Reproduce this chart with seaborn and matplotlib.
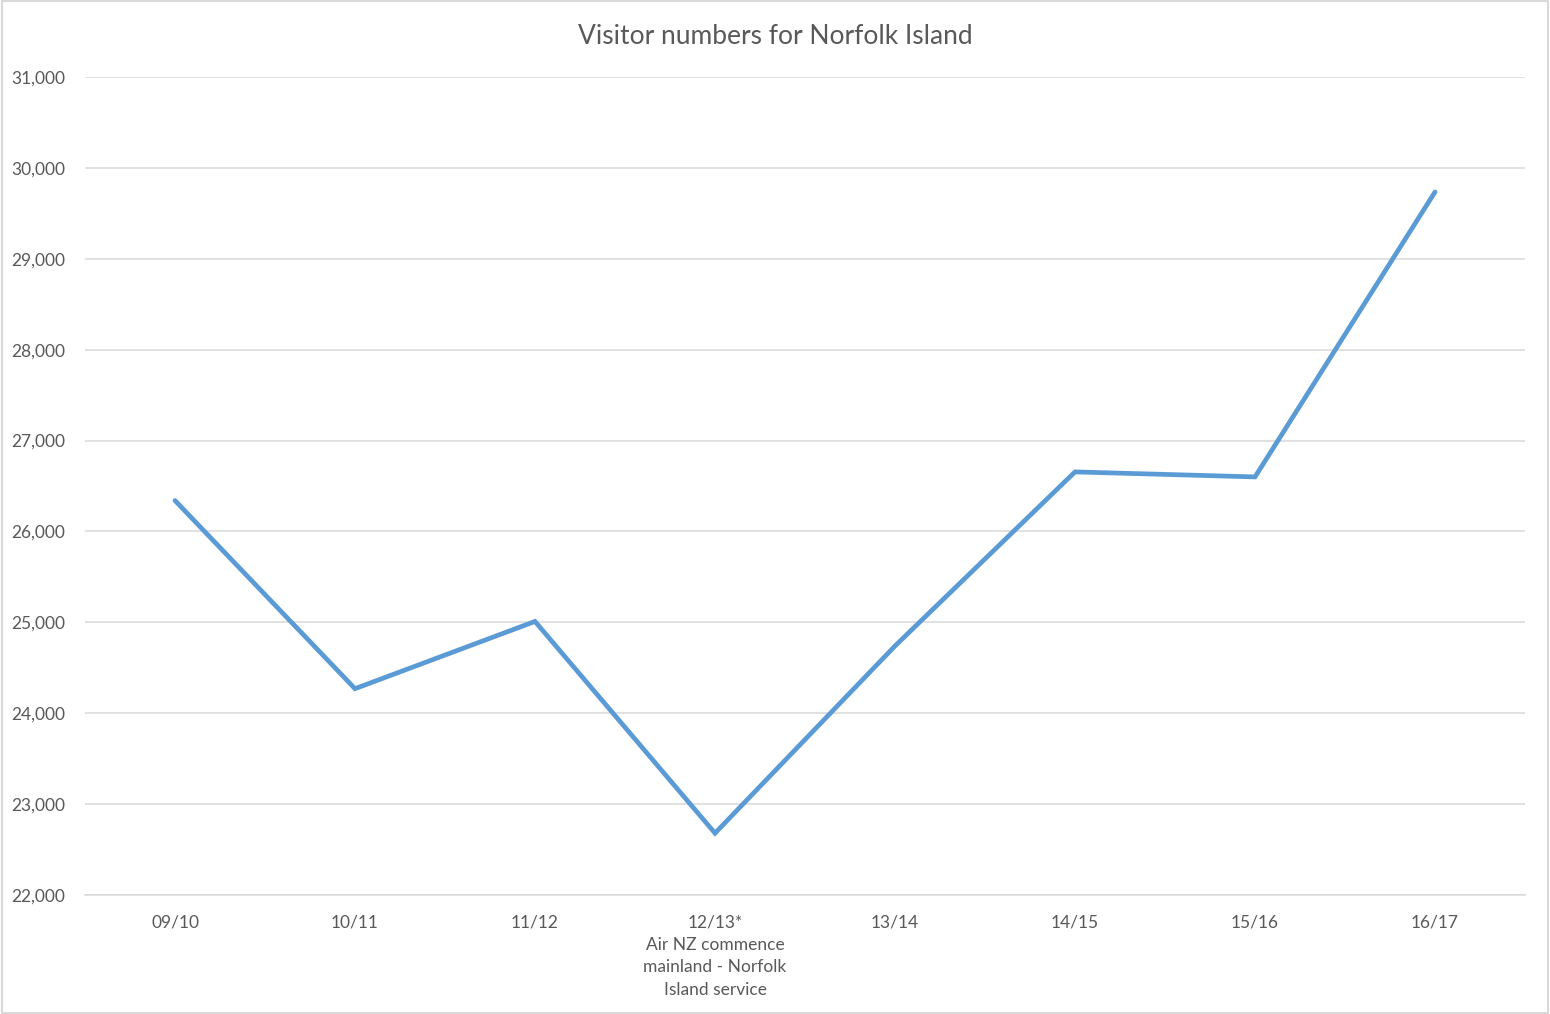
import matplotlib
matplotlib.use("Agg")
import matplotlib.pyplot as plt
import pandas as pd
import seaborn as sns
from matplotlib.ticker import FuncFormatter

years = ["09/10", "10/11", "11/12", "12/13*\nAir NZ commence\nmainland - Norfolk\nIsland service",
         "13/14", "14/15", "15/16", "16/17"]
visitors = [26340, 24270, 25010, 22680, 24740, 26655, 26600, 29735]
y_ticks = [22000, 23000, 24000, 25000, 26000, 27000, 28000, 29000, 30000, 31000]

TEXT = "#595959"
GRID = "#D9D9D9"
LINE = "#5B9BD5"

sns.set_theme(style="white")
plt.rcParams["font.family"] = ["Lato", "DejaVu Sans"]

df = pd.DataFrame({"year": years, "visitors": visitors})
df["pos"] = range(len(df))

fig = plt.figure(figsize=(15.5, 10.14), dpi=100)
ax = fig.add_axes([85 / 1550, 1 - 895 / 1014, 1440 / 1550, 818 / 1014])

sns.lineplot(data=df, x="pos", y="visitors", ax=ax, color=LINE, linewidth=3.4,
             solid_capstyle="round", solid_joinstyle="miter")

ax.set_xlim(-0.5, len(years) - 0.5)
ax.set_ylim(y_ticks[0], y_ticks[-1])
ax.set_yticks(y_ticks)
ax.yaxis.set_major_formatter(FuncFormatter(lambda v, _: f"{int(v):,}"))
ax.set_xticks(df["pos"])
ax.set_xticklabels(years, linespacing=1.5)
ax.tick_params(axis="both", length=0, labelsize=12.5, colors=TEXT)
ax.tick_params(axis="x", pad=14)
ax.tick_params(axis="y", pad=14)
ax.grid(axis="y", color=GRID, linewidth=1.1)
ax.set_axisbelow(True)
for side in ["left", "right", "top"]:
    ax.spines[side].set_visible(False)
ax.spines["bottom"].set_color(GRID)
ax.spines["bottom"].set_linewidth(1.1)
ax.set_xlabel("")
ax.set_ylabel("")

fig.text(0.5, 1 - 36 / 1014, "Visitor numbers for Norfolk Island", ha="center", va="center",
         fontsize=19, color=TEXT)

# light frame round the chart area
fig.patches.append(plt.Rectangle((0.001, 0.001), 0.998, 0.998, transform=fig.transFigure,
                                 fill=False, edgecolor=GRID, linewidth=1.5))

fig.savefig("out.png", dpi=100)
